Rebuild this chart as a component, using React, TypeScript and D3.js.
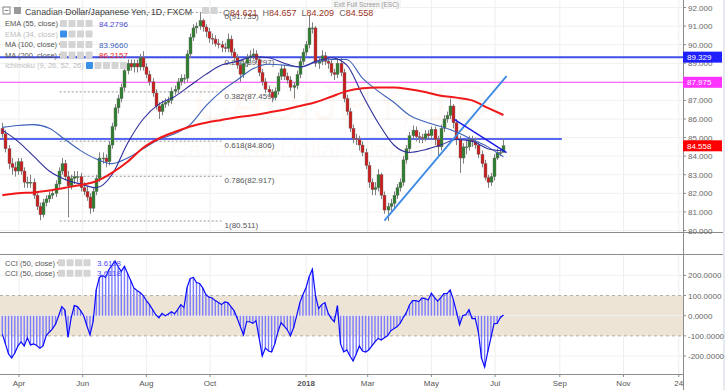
import React from 'react';
import * as d3 from 'd3';

const W = 725;
const H = 390;
const DAY = 86400000;

// ---------- data ----------
const axisStart = Date.UTC(2017, 2, 14);
const axisEnd = Date.UTC(2018, 11, 28);
const firstCandleDate = Date.UTC(2017, 2, 16);
const candleStepDays = 3;
const firstOpen = 85.5;

const closes = [
  85.2, 84.4, 83.6, 83.4, 83.2, 83.7, 83.2, 82.6, 82.6, 82.6,
  81.9, 81.3, 80.85, 81.5, 81.7, 81.9, 82.0, 82.5, 83.2, 83.6,
  82.9, 82.4, 82.8, 82.9, 82.9, 82.3, 82.1, 81.8, 81.2, 82.1,
  82.8, 83.9, 83.9, 83.7, 84.6, 85.6, 86.6, 87.1, 87.7, 88.6,
  89.0, 88.8, 89.0, 88.8, 89.3, 88.8, 88.4, 88.0, 87.4, 86.7,
  86.4, 86.8, 86.9, 87.0, 87.5, 87.6, 88.0, 88.2, 88.2, 89.5,
  90.4, 90.9, 91.0, 91.3, 90.95, 90.7, 90.35, 90.3, 90.05, 90.0,
  89.85, 89.8, 90.3, 89.6, 89.3, 88.9, 88.4, 89.0, 89.3, 89.4,
  89.5, 89.2, 88.5, 88.0, 87.6, 87.45, 87.15, 87.5, 88.3, 88.7,
  88.3, 88.1, 87.7, 87.8, 88.4, 89.1, 89.6, 90.0, 90.9, 90.9,
  89.0, 89.1, 89.4, 89.1, 89.0, 88.5, 88.4, 89.0, 88.5, 87.1,
  86.4, 85.5, 84.95, 84.9, 84.6, 84.2, 83.5, 82.6, 82.2, 82.3,
  83.0, 81.9, 81.1, 81.3, 81.45, 81.9, 82.3, 82.6, 83.8, 84.4,
  85.1, 85.4, 85.05, 85.0, 84.95, 85.2, 85.1, 85.45, 84.9, 84.5,
  85.5, 86.0, 86.2, 86.7, 85.8, 84.9, 83.9, 84.5, 84.5, 84.9,
  84.8, 84.6, 84.1, 83.6, 82.85, 82.6, 82.9, 83.9, 84.2, 84.2,
  84.558,
];

const highs = [
  85.8, 85.4, 84.6, 83.9, 83.7, 83.9, 83.9, 83.4, 82.9, 83.0,
  82.8, 82.1, 81.5, 81.7, 81.9, 82.1, 82.2, 82.7, 83.4, 83.9,
  83.8, 83.2, 83.0, 83.2, 83.2, 83.1, 82.6, 82.4, 82.0, 82.3,
  83.0, 84.2, 84.2, 84.1, 84.8, 85.8, 86.8, 87.3, 87.9, 88.8,
  89.2, 89.2, 89.2, 89.2, 89.5, 89.65, 89.0, 88.6, 88.2, 87.6,
  86.9, 87.0, 87.1, 87.2, 87.7, 87.8, 88.2, 88.4, 88.4, 89.7,
  90.6, 91.1, 91.2, 91.73, 91.4, 91.1, 90.9, 90.6, 90.5, 90.3,
  90.2, 90.1, 90.6, 90.5, 89.8, 89.5, 89.1, 89.2, 89.5, 89.7,
  89.8, 89.7, 89.3, 88.7, 88.2, 87.8, 87.6, 87.7, 88.5, 88.9,
  88.9, 88.5, 88.3, 88.0, 88.6, 89.3, 89.8, 90.2, 91.6, 91.2,
  91.0, 89.3, 89.7, 89.6, 89.3, 89.2, 88.7, 89.3, 89.3, 88.7,
  87.3, 86.6, 85.7, 85.2, 85.1, 84.8, 84.4, 83.7, 82.8, 82.6,
  83.3, 83.1, 82.1, 81.5, 81.7, 82.1, 82.5, 82.8, 84.0, 84.6,
  85.3, 85.65, 85.6, 85.3, 85.2, 85.4, 85.4, 85.6, 85.6, 85.1,
  85.7, 86.2, 86.4, 87.1, 86.8, 86.0, 85.1, 84.7, 84.9, 85.1,
  85.1, 85.0, 84.8, 84.3, 83.8, 83.0, 83.1, 84.1, 84.4, 84.4,
  84.95,
];

const lows = [
  85.0, 84.2, 83.3, 83.0, 82.9, 83.0, 83.0, 82.3, 82.3, 82.3,
  81.7, 81.1, 80.55, 80.7, 81.3, 81.5, 81.7, 81.8, 82.3, 83.0,
  82.7, 80.7, 82.2, 82.5, 82.6, 82.1, 81.9, 81.6, 80.9, 81.0,
  81.9, 82.6, 83.6, 83.4, 83.5, 84.4, 85.4, 86.3, 86.9, 87.5,
  88.4, 88.6, 88.5, 88.5, 88.6, 88.6, 88.2, 87.8, 87.2, 86.5,
  86.0, 86.2, 86.6, 86.7, 86.8, 87.3, 87.4, 87.8, 87.9, 88.0,
  89.3, 90.2, 90.6, 90.8, 90.7, 90.4, 90.1, 90.0, 89.9, 89.8,
  89.6, 89.6, 89.6, 89.4, 89.1, 88.7, 88.0, 88.2, 88.8, 89.1,
  89.2, 89.0, 88.3, 87.8, 87.4, 87.2, 86.9, 87.0, 87.3, 88.1,
  88.1, 87.9, 87.5, 87.1, 87.6, 88.2, 88.9, 89.4, 89.8, 90.6,
  88.8, 88.7, 88.9, 88.9, 88.7, 88.3, 88.1, 88.2, 88.3, 86.9,
  86.2, 85.3, 84.7, 84.6, 84.3, 84.0, 83.3, 82.3, 81.9, 81.9,
  82.1, 81.7, 80.9, 80.511, 81.0, 81.2, 81.7, 82.1, 82.4, 83.6,
  84.2, 84.9, 84.8, 84.7, 84.7, 84.8, 84.9, 84.9, 84.6, 84.0,
  84.3, 85.3, 85.8, 86.0, 85.5, 84.6, 83.1, 83.6, 84.1, 84.3,
  84.5, 84.4, 83.9, 83.4, 82.7, 82.3, 82.4, 82.7, 83.8, 84.0,
  84.2,
];

const cciValues = [
  -90, -140, -190, -210, -185, -150, -130, -150, -110, -145,
  -140, -148, -162, -150, -100, -82, -65, -42, 0, 45,
  28, -107, -10, 50, 45, 25, 0, -50, -95, -30,
  130, 190, 200, 190, 228, 250, 272, 243, 220, 245,
  210, 175, 138, 125, 115, 100, 75, 55, 30, 5,
  -10, 12, 0, 8, 20, 10, 30, 55, 40, 140,
  185, 190, 165, 160, 138, 105, 92, 88, 75, 65,
  55, 68, 65, 45, 25, -13, -54, -95, -30, -30,
  -38, -25, -110, -200, -160, -175, -180, -140, -80, -35,
  -52, -70, -100, -60, 0, 65, 105, 140, 195, 230,
  100, 35, 55, 65, 15, -13, -30, 50, -140, -180,
  -170, -200, -225, -190, -150, -175, -180, -170, -150, -130,
  -113, -121, -110, -100, -75, -65, -55, -38, -10, 15,
  53, 75, 75, 70, 88, 85, 78, 112, 90, 72,
  90, 110, 110, 128, 80, 20, -45, 0, 5, 30,
  -15, -15, -80, -210, -255, -180, -110, -40, -38, -10,
  3.6118,
];

// moving averages, one value every 5 candles
const maEveryCandles = 5;
const ma200 = [
  81.9, 82.0, 82.05, 82.15, 82.3, 82.45, 82.65, 83.1, 83.7, 84.45,
  84.95, 85.3, 85.6, 85.8, 85.95, 86.1, 86.2, 86.35, 86.5, 86.7,
  86.9, 87.2, 87.5, 87.65, 87.7, 87.7, 87.6, 87.45, 87.25, 87.15,
  87.0, 86.6, 86.2157,
];
const ema55 = [
  85.4, 84.8, 84.0, 83.2, 82.75, 82.5, 82.3, 83.0, 84.7, 86.0,
  86.8, 87.2, 87.8, 88.4, 88.9, 89.1, 89.35, 89.3, 89.0, 88.8,
  89.1, 89.3, 88.9, 87.3, 85.8, 84.6, 84.2, 84.35, 84.6, 84.9,
  84.8, 84.4, 84.2796,
];
const ma100 = [
  85.55, 85.65, 85.7, 85.5, 84.9, 84.3, 83.85, 83.6, 83.9, 84.4,
  84.9, 85.2, 85.7, 86.7, 87.5, 88.1, 88.7, 88.95, 88.9, 88.8,
  89.05, 89.2, 89.2, 88.2, 87.5, 86.9, 86.2, 85.85, 85.6, 85.3,
  84.9, 84.5, 83.966,
];

const priceTicks = [80, 81, 82, 83, 84, 85, 86, 87, 88, 89, 90, 91, 92];
const cciTicks = [200, 100, 0, -100, -200];
const timeTicks = [
  { date: Date.UTC(2017, 3, 1), label: 'Apr', bold: false },
  { date: Date.UTC(2017, 5, 1), label: 'Jun', bold: false },
  { date: Date.UTC(2017, 7, 1), label: 'Aug', bold: false },
  { date: Date.UTC(2017, 9, 1), label: 'Oct', bold: false },
  { date: Date.UTC(2018, 0, 1), label: '2018', bold: true },
  { date: Date.UTC(2018, 2, 1), label: 'Mar', bold: false },
  { date: Date.UTC(2018, 4, 1), label: 'May', bold: false },
  { date: Date.UTC(2018, 6, 1), label: 'Jul', bold: false },
  { date: Date.UTC(2018, 8, 1), label: 'Sep', bold: false },
  { date: Date.UTC(2018, 10, 1), label: 'Nov', bold: false },
  { date: Date.UTC(2018, 11, 24), label: '24', bold: false },
];

const fibStart = Date.UTC(2017, 4, 10);
const fibEnd = Date.UTC(2017, 9, 12);
const fibLevels = [
  { ratio: '0', value: 91.735 },
  { ratio: '0.236', value: 89.297 },
  { ratio: '0.382', value: 87.459 },
  { ratio: '0.618', value: 84.806 },
  { ratio: '0.786', value: 82.917 },
  { ratio: '1', value: 80.511 },
];

const resistanceBlue = 89.329;
const levelMagenta = 87.975;
const supportLine = { value: 84.92, end: Date.UTC(2018, 8, 3) };
const risingTrend = [
  { date: Date.UTC(2018, 2, 17), value: 80.53 },
  { date: Date.UTC(2018, 6, 12), value: 88.31 },
];
const fallingTrend = [
  { date: Date.UTC(2018, 4, 23), value: 85.98 },
  { date: Date.UTC(2018, 6, 12), value: 84.19 },
];

const legendRows = [
  { name: 'EMA (55, close)', value: '84.2796', color: '#4a4ad0', faded: false, icons: 4 },
  { name: 'EMA (34, close)', value: '', color: '', faded: true, icons: 4 },
  { name: 'MA (100, close)', value: '83.9660', color: '#3c5fc0', faded: false, icons: 4 },
  { name: 'MA (200, close)', value: '86.2157', color: '#f02020', faded: false, icons: 4 },
  { name: 'Ichimoku (9, 26, 52, 26)', value: '', color: '', faded: true, icons: 5 },
];

// ---------- layout ----------
const AXIS_X = 683;
const MAIN_TOP = 0;
const MAIN_BOTTOM = 232;
const CCI_TOP = 254;
const CCI_BOTTOM = 374;
const FONT = "'Liberation Sans', Arial, sans-serif";

export default function App() {
  const x = d3.scaleUtc().domain([axisStart, axisEnd]).range([0.2, AXIS_X]);
  const y = d3.scaleLinear().domain([80, 92]).range([230.5, 7.5]);
  const yc = d3.scaleLinear().domain([-200, 200]).range([356, 275.4]);

  const candleDate = (i: number) => firstCandleDate + i * candleStepDays * DAY;
  const candles = closes.map((c, i) => ({
    date: candleDate(i),
    open: i === 0 ? firstOpen : closes[i - 1],
    close: c,
    high: highs[i],
    low: lows[i],
  }));

  const maLine = d3
    .line<number>()
    .x((_, k) => x(candleDate(k * maEveryCandles)))
    .y((v) => y(v))
    .curve(d3.curveMonotoneX);

  const cciLine = d3
    .line<number>()
    .x((_, i) => x(candleDate(i)))
    .y((v) => yc(v));

  const bodyW = 2;

  const priceLabel = (v: number, bg: string, key: string) => (
    <g key={key}>
      <rect x={AXIS_X} y={y(v) - 5.5} width={39} height={11} fill={bg} />
      <text x={AXIS_X + 4} y={y(v) + 3} fontSize={8} fill="#fff" fontFamily={FONT}>
        {v.toFixed(3)}
      </text>
    </g>
  );

  const iconBoxes = (x0: number, yMid: number, n: number, firstBlue: boolean, key: string) => (
    <g key={key}>
      {d3.range(n).map((k) => (
        <rect
          key={k}
          x={x0 + k * 8.5}
          y={yMid - 3.5}
          width={7}
          height={7}
          rx={1}
          fill={firstBlue && k === 0 ? '#3a8fe8' : '#d4d4d4'}
        />
      ))}
    </g>
  );

  return (
    <svg
      width={W}
      height={H}
      style={{ position: 'fixed', left: 0, top: 0, background: '#fff' }}
      fontFamily={FONT}
    >
      <defs>
        <clipPath id="mainClip">
          <rect x={0} y={MAIN_TOP} width={AXIS_X} height={MAIN_BOTTOM - MAIN_TOP} />
        </clipPath>
        <clipPath id="cciClip">
          <rect x={0} y={CCI_TOP} width={AXIS_X} height={CCI_BOTTOM - CCI_TOP} />
        </clipPath>
      </defs>
      <rect x={0} y={0} width={W} height={H} fill="#fff" />
      <rect x={723} y={0} width={2} height={H} fill="#e6e9ed" />

      {/* vertical grid */}
      {timeTicks.map((t) => (
        <g key={t.label}>
          <line x1={x(t.date)} x2={x(t.date)} y1={MAIN_TOP} y2={MAIN_BOTTOM} stroke="#eeeeee" />
          <line x1={x(t.date)} x2={x(t.date)} y1={CCI_TOP} y2={CCI_BOTTOM} stroke="#eeeeee" />
        </g>
      ))}
      {/* horizontal grid main */}
      {priceTicks.map((p) => (
        <line key={p} x1={0} x2={AXIS_X} y1={y(p)} y2={y(p)} stroke="#f0f0f0" />
      ))}

      {/* watermark */}
      <text x={342} y={120} fontSize={50} textAnchor="middle" fill="#e9a27c" fillOpacity={0.06}>
        CAD/JPY, 1D
      </text>
      <text x={342} y={158} fontSize={24} textAnchor="middle" fill="#e9a27c" fillOpacity={0.06}>
        Canadian Dollar / Japanese Yen
      </text>

      <g clipPath="url(#mainClip)">
        {/* fib retracement */}
        {fibLevels.map((f) => (
          <g key={f.ratio}>
            <line
              x1={x(fibStart)}
              x2={x(fibEnd)}
              y1={y(f.value)}
              y2={y(f.value)}
              stroke="#9a9a9a"
              strokeDasharray="2,2"
            />
            <text x={x(fibEnd) + 3} y={y(f.value) + 7} fontSize={8} fill="#555">
              {`${f.ratio}(${f.value.toFixed(3)})`}
            </text>
          </g>
        ))}

        {/* horizontal levels */}
        <line x1={0} x2={AXIS_X} y1={y(resistanceBlue)} y2={y(resistanceBlue)} stroke="#3f4fe6" strokeWidth={2} />
        <line x1={0} x2={AXIS_X} y1={y(levelMagenta)} y2={y(levelMagenta)} stroke="#ff45ff" strokeWidth={1} />
        <line
          x1={0}
          x2={x(supportLine.end)}
          y1={y(supportLine.value)}
          y2={y(supportLine.value)}
          stroke="#2236ee"
          strokeWidth={1.5}
        />

        {/* candles */}
        {candles.map((c, i) => {
          const up = c.close >= c.open;
          const cx = Math.round(x(c.date)) + 0.5;
          const top = y(Math.max(c.open, c.close));
          const bot = y(Math.min(c.open, c.close));
          return (
            <g key={i}>
              <line x1={cx} x2={cx} y1={y(c.high)} y2={y(c.low)} stroke="#808080" strokeWidth={1} />
              <rect
                x={cx - bodyW / 2 - 0.5}
                y={top}
                width={bodyW + 1}
                height={Math.max(1, bot - top)}
                fill={up ? '#2f7d2f' : '#c81e1e'}
                stroke="#6d6d6d"
                strokeWidth={0.4}
              />
            </g>
          );
        })}

        {/* moving averages */}
        <path d={maLine(ma100) || ''} fill="none" stroke="#3c62b8" strokeWidth={1.1} />
        <path d={maLine(ema55) || ''} fill="none" stroke="#2e2e9e" strokeWidth={1.1} />
        <path d={maLine(ma200) || ''} fill="none" stroke="#f01818" strokeWidth={2} />

        {/* trendlines */}
        <line
          x1={x(risingTrend[0].date)}
          y1={y(risingTrend[0].value)}
          x2={x(risingTrend[1].date)}
          y2={y(risingTrend[1].value)}
          stroke="#3d8ae6"
          strokeWidth={1.8}
        />
        <line
          x1={x(fallingTrend[0].date)}
          y1={y(fallingTrend[0].value)}
          x2={x(fallingTrend[1].date)}
          y2={y(fallingTrend[1].value)}
          stroke="#1a1ae8"
          strokeWidth={1.4}
        />
      </g>

      {/* CCI pane */}
      <rect x={0} y={yc(100)} width={AXIS_X} height={yc(-100) - yc(100)} fill="#ede4d6" />
      {cciTicks.map((t) =>
        Math.abs(t) === 100 ? (
          <line key={t} x1={0} x2={AXIS_X} y1={yc(t)} y2={yc(t)} stroke="#b0aca6" strokeDasharray="3,3" />
        ) : (
          <line key={t} x1={0} x2={AXIS_X} y1={yc(t)} y2={yc(t)} stroke="#f0f0f0" />
        )
      )}
      <g clipPath="url(#cciClip)">
        {cciValues.map((v, i) => (
          <line
            key={i}
            x1={x(candleDate(i))}
            x2={x(candleDate(i))}
            y1={yc(0)}
            y2={yc(v)}
            stroke="#7c7cff"
            strokeWidth={1.4}
          />
        ))}
        <path d={cciLine(cciValues) || ''} fill="none" stroke="#0a0aff" strokeWidth={1.2} />
      </g>

      {/* pane separators */}
      <line x1={0} x2={723} y1={MAIN_BOTTOM + 0.5} y2={MAIN_BOTTOM + 0.5} stroke="#8c8c8c" />
      <line x1={0} x2={723} y1={CCI_TOP + 0.5} y2={CCI_TOP + 0.5} stroke="#8c8c8c" />
      <line x1={0} x2={AXIS_X} y1={CCI_BOTTOM + 0.5} y2={CCI_BOTTOM + 0.5} stroke="#8c8c8c" />
      <line x1={AXIS_X + 0.5} x2={AXIS_X + 0.5} y1={0} y2={H} stroke="#8c8c8c" />

      {/* price axis */}
      {priceTicks.map((p) => (
        <g key={p}>
          <line x1={AXIS_X} x2={AXIS_X + 3} y1={y(p)} y2={y(p)} stroke="#8c8c8c" />
          <text x={AXIS_X + 5} y={y(p) + 3} fontSize={8} fill="#666">
            {p.toFixed(3)}
          </text>
        </g>
      ))}
      {priceLabel(resistanceBlue, '#1f1fff', 'r')}
      {priceLabel(levelMagenta, '#ff33ff', 'm')}
      {priceLabel(closes[closes.length - 1], '#ff0000', 'c')}

      {/* CCI axis */}
      {cciTicks.map((t) => (
        <g key={t}>
          <line x1={AXIS_X} x2={AXIS_X + 3} y1={yc(t)} y2={yc(t)} stroke="#8c8c8c" />
          <text x={AXIS_X + 5} y={yc(t) + 3} fontSize={8} fill="#666">
            {t.toFixed(4)}
          </text>
        </g>
      ))}

      {/* time axis */}
      {timeTicks.map((t) => (
        <g key={t.label}>
          <line x1={x(t.date)} x2={x(t.date)} y1={CCI_BOTTOM} y2={CCI_BOTTOM + 3} stroke="#8c8c8c" />
          <text
            x={x(t.date)}
            y={386}
            fontSize={8}
            textAnchor="middle"
            fill="#555"
            fontWeight={t.bold ? 'bold' : 'normal'}
          >
            {t.label}
          </text>
        </g>
      ))}

      {/* header */}
      <rect x={3} y={7} width={7} height={7} fill="none" stroke="#888" />
      <line x1={4.5} x2={8.5} y1={10.5} y2={10.5} stroke="#888" />
      <rect x={14} y={7} width={7} height={7} fill="#9a9a9a" />
      <text x={25} y={15} fontSize={9.2} fill="#444" textLength={167} lengthAdjust="spacingAndGlyphs">
        Canadian Dollar/Japanese Yen, 1D, FXCM
      </text>
      {iconBoxes(202, 10.5, 2, false, 'hdr')}
      <text x={223} y={16} fontSize={9} fill="#9b3322">
        <tspan fill="#666">O</tspan>84.621
        <tspan fill="#666" dx={5}>H</tspan>84.657
        <tspan fill="#666" dx={5}>L</tspan>84.209
        <tspan fill="#666" dx={5}>C</tspan>84.558
      </text>
      <rect x={331} y={0} width={70} height={9} fill="#f6f6f6" />
      <text x={334} y={7} fontSize={6.5} fill="#999">
        Exit Full Screen (ESC)
      </text>

      {legendRows.map((r, k) => {
        const ym = 23.5 + k * 10.5;
        const textW = r.name.length > 16 ? 72 : 46;
        return (
          <g key={r.name}>
            <text x={5} y={ym + 2.8} fontSize={7.5} fill={r.faded ? '#bdbdbd' : '#555'}>
              {r.name} ▾
            </text>
            {iconBoxes(textW + 14, ym, r.icons, r.faded, 'i' + k)}
            {r.value && (
              <text x={99} y={ym + 3} fontSize={8} fill={r.color}>
                {r.value}
              </text>
            )}
          </g>
        );
      })}

      {[262.7, 273.3].map((ym, k) => (
        <g key={k}>
          <text x={5} y={ym + 2.8} fontSize={7.5} fill="#555">
            CCI (50, close) ▾
          </text>
          {iconBoxes(58, ym, 4, false, 'c' + k)}
          <text x={97} y={ym + 3} fontSize={8} fill="#4c4cff">
            3.6118
          </text>
        </g>
      ))}
    </svg>
  );
}
